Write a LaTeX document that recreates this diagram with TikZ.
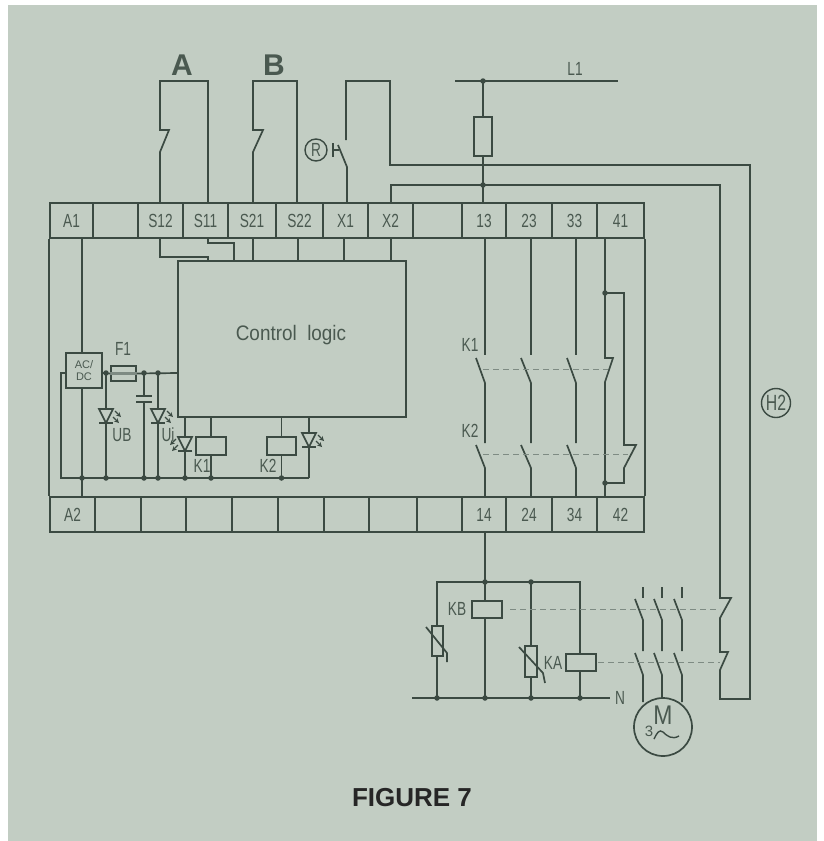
\documentclass[tikz,border=0pt]{standalone}
\usepackage{fontspec}
\usepackage{graphicx}
\setmainfont{Liberation Sans}
\usetikzlibrary{positioning}
\definecolor{panel}{HTML}{C2CDC3}
\definecolor{ink}{HTML}{3B4A42}
\definecolor{inktext}{HTML}{4A5950}
\newcommand{\slim}[1]{\scalebox{0.72}[1]{#1}}
\tikzset{
	wire/.style={ink,line width=1.7},
	link/.style={ink!50!panel,line width=0.8,dash pattern=on 6pt off 4pt},
	cell/.style={draw=ink,line width=1.7,inner sep=0,minimum height=35,text=inktext,font=\fontsize{19}{19}\selectfont},
	part/.style={draw=ink,line width=1.7,inner sep=0,fill=panel},
	tag/.style={inner sep=0,text=inktext,font=\fontsize{19}{19}\selectfont},
	blob/.style={circle,fill=ink,inner sep=0,minimum size=5.5},
	led/.pic={
		\draw [wire,fill=panel] (-7,0) -- (7,0) -- (0,14) -- cycle;
		\draw [wire] (-7,14) -- (7,14);
		\draw [wire,->,>=stealth,line width=1.1] (9,2) -- (15,8);
		\draw [wire,->,>=stealth,line width=1.1] (7,8) -- (13,14);
	}
}

\begin{document}
\begin{tikzpicture}[x=1pt,y=-1pt]
	\useasboundingbox (0,0) rectangle (823,841);
	\fill [panel] (8,5) rectangle (817,841);
	% Terminal Strips %
	\foreach \name/\x/\w in {A1/71.5/43, gap/115.5/45, S12/160.5/45, S11/205.5/45, S21/252/48, S22/299.5/47, X1/345.5/45, X2/390.5/45, gapb/437.5/49, 13/484/44, 23/529/46, 33/574.5/45, 41/620.5/47}
		{\ifnum\pdfstrcmp{\name}{gap}=0 \def\lbl{}\else\ifnum\pdfstrcmp{\name}{gapb}=0 \def\lbl{}\else\def\lbl{\name}\fi\fi
		\node (top\name) at (\x,220.5) [cell,minimum width=\w] {\slim{\lbl}};}
	\foreach \name/\x/\w in {A2/72.5/45, gapa/118/46, gapb/163.5/45, gapc/209/46, gapd/255/46, gape/301/46, gapf/346.5/45, gapg/393/48, gaph/439.5/45, 14/484/44, 24/529/46, 34/574.5/45, 42/620.5/47}
		{\ifnum\pdfstrcmp{\name}{A2}=0 \def\lbl{A2}\else\ifnum\pdfstrcmp{\name}{14}=0 \def\lbl{14}\else\ifnum\pdfstrcmp{\name}{24}=0 \def\lbl{24}\else\ifnum\pdfstrcmp{\name}{34}=0 \def\lbl{34}\else\ifnum\pdfstrcmp{\name}{42}=0 \def\lbl{42}\else\def\lbl{}\fi\fi\fi\fi\fi
		\node (bot\name) at (\x,514.5) [cell,minimum width=\w] {\slim{\lbl}};}
	\draw [wire] (topA1.south west) -- (botA2.north west);
	\draw [wire] (top41.south east) -- (bot42.north east);
	% Control Logic %
	\node (logic) at (292,339) [draw=ink,line width=1.7,inner sep=0,minimum width=228,minimum height=156] {};
	\node (logictext) at (291,335) [tag] {\scalebox{0.9}[1]{\fontsize{21}{21}\selectfont Control\ \ logic}};
	% Wires Into Logic %
	\draw [wire] (160,238) -- (160,257) -- (208,257) -- (208,261);
	\draw [wire] (208,238) -- (208,243) -- (234,243) -- (234,261);
	\foreach \x in {253, 298, 344, 391}
		{\draw [wire] (\x,238) -- (\x,261);}
	% Switch A and B %
	\node (swa) at (182,65) [tag] {\fontsize{30}{30}\selectfont\bfseries A};
	\node (swb) at (274,65) [tag] {\fontsize{30}{30}\selectfont\bfseries B};
	\draw [wire] (160,203) -- (160,152) -- (169,130) -- (160,130) -- (160,81) -- (208,81) -- (208,203);
	\draw [wire] (253,203) -- (253,152) -- (263,130) -- (253,130) -- (253,81) -- (297,81) -- (297,203);
	% Reset Button %
	\node (reset) at (316,150) [circle,draw=ink,line width=1.4,inner sep=0,minimum size=22,text=inktext,font=\fontsize{19}{19}\selectfont] {\slim{R}};
	\draw [wire] (333,143) -- (333,157);
	\draw [wire] (333,150) -- (339,150);
	\draw [wire] (347,203) -- (347,167) -- (338,145);
	\draw [wire] (346,140) -- (346,81) -- (390,81) -- (390,165) -- (750,165) -- (750,699) -- (720,699) -- (720,670) -- (728,652) -- (720,652) -- (720,618) -- (731,598) -- (720,598) -- (720,185) -- (391,185) -- (391,203);
	% L1 and Fuse %
	\draw [wire] (455,81) -- (618,81);
	\node (lone) at (575,69) [tag] {\slim{L1}};
	\node (fuse) at (483,136.5) [part,minimum width=18,minimum height=39] {};
	\draw [wire] (483,81) -- (fuse.north);
	\draw [wire] (fuse.south) -- (483,203);
	\node [blob] (ldot) at (483,81) {};
	\node [blob] (xdot) at (483,185) {};
	% Output Contacts %
	\foreach \x/\o in {485/476, 531/521, 576/567}
		{\draw [wire] (\x,238) -- (\x,355);
		\draw [wire] (\o,358) -- (\x,383) -- (\x,443);
		\draw [wire] (\o,445) -- (\x,468) -- (\x,497);}
	\draw [wire] (605,238) -- (605,358) -- (613,358) -- (605,382) -- (605,497);
	\draw [wire] (605,293) -- (624,293) -- (624,445) -- (636,445) -- (624,468) -- (624,483) -- (605,483);
	\node [blob] (opena) at (605,293) {};
	\node [blob] (openb) at (605,483) {};
	\draw [link] (483,369) -- (608,369);
	\draw [link] (483,454) -- (628,454);
	\node (kone) at (470,345) [tag] {\slim{K1}};
	\node (ktwo) at (470,431) [tag] {\slim{K2}};
	% H2 Lamp %
	\node (lamp) at (776,403) [circle,draw=ink,line width=1.4,inner sep=0,minimum size=29,text=inktext,font=\fontsize{22}{22}\selectfont] {\slim{H2}};
	% Supply %
	\node (supply) at (84,370.5) [part,minimum width=36,minimum height=35,align=center,text=inktext,font=\fontsize{11}{12}\selectfont] {AC/\\DC};
	\draw [wire] (82,238) -- (82,353);
	\draw [wire] (82,388) -- (82,497);
	\draw [wire] (66,373) -- (61,373) -- (61,478) -- (309,478);
	\node (fone) at (123.5,373.5) [part,minimum width=25,minimum height=15] {};
	\draw [wire,ink!50!panel,line width=2.5] (fone.west) -- (fone.east);
	\node (foneb) at (123,349) [tag] {\slim{F1}};
	\draw [wire] (102,373) -- (fone.west);
	\draw [wire] (fone.east) -- (178,373);
	% LEDs and Capacitor %
	\draw [wire] (106,373) -- (106,478);
	\pic at (106,409) {led};
	\node (ub) at (122,435) [tag] {\slim{UB}};
	\draw [wire] (144,373) -- (144,397);
	\draw [wire] (144,402) -- (144,478);
	\draw [ink,line width=2.5] (136,396) -- (152,396);
	\draw [ink,line width=2.5] (136,402) -- (152,402);
	\draw [wire] (158,373) -- (158,478);
	\pic at (158,409) {led};
	\node (ui) at (168,435) [tag] {\slim{Ui}};
	\draw [wire] (185,417) -- (185,478);
	\pic [xscale=-1] at (185,437) {led};
	\draw [wire] (309,417) -- (309,478);
	\pic at (309,433) {led};
	% Coils K1 K2 %
	\node (coilone) at (211,446) [part,minimum width=30,minimum height=18] {};
	\node (coiltwo) at (281.5,446) [part,minimum width=29,minimum height=18] {};
	\draw [wire] (211,417) -- (coilone.north);
	\draw [wire] (coilone.south) -- (211,478);
	\draw [wire] (281.5,417) -- (coiltwo.north);
	\draw [wire] (coiltwo.south) -- (281.5,478);
	\node (kcone) at (202,466) [tag] {\slim{K1}};
	\node (kctwo) at (268,466) [tag] {\slim{K2}};
	\foreach \x in {82, 106, 144, 158, 185, 211, 281.5}
		{\node [blob] at (\x,478) {};}
	\foreach \x in {106, 144, 158}
		{\node [blob] at (\x,373) {};}
	% Load Circuit %
	\draw [wire] (485,532) -- (485,698);
	\draw [wire] (437,698) -- (437,582) -- (580,582) -- (580,698);
	\draw [wire] (531,582) -- (531,698);
	\draw [wire,line width=2] (412,698) -- (610,698);
	\node (neutral) at (620,698) [tag] {\slim{N}};
	\foreach \x in {437, 485, 531, 580}
		{\node [blob] at (\x,698) {};}
	\node [blob] at (485,582) {};
	\node [blob] at (531,582) {};
	% Varistors %
	\node (vara) at (437.5,641) [part,minimum width=11,minimum height=30] {};
	\node (varb) at (531,661.5) [part,minimum width=12,minimum height=31] {};
	\draw [wire] (426,627) -- (447,653) -- (447,662);
	\draw [wire] (519,647) -- (543,673) -- (545,683);
	% Coils KA KB %
	\node (coilkb) at (487,609.5) [part,minimum width=30,minimum height=17] {};
	\node (coilka) at (581,662.5) [part,minimum width=30,minimum height=17] {};
	\node (kb) at (457,609) [tag] {\slim{KB}};
	\node (ka) at (553,663) [tag] {\slim{KA}};
	% Motor Contacts %
	\foreach \x in {643, 662, 682}
		{\draw [wire] (\x,587) -- (\x,598);
		\draw [wire] (\x-8,599) -- (\x,620) -- (\x,651);
		\draw [wire] (\x-8,653) -- (\x,675) -- (\x,702);}
	\draw [link] (510,609) -- (720,609);
	\draw [link] (598,662) -- (720,662);
	% Motor %
	\node (motor) at (663,727) [circle,draw=ink,line width=1.7,fill=panel,inner sep=0,minimum size=58] {};
	\node (mletter) at (663,715) [tag] {\scalebox{0.85}[1]{\fontsize{27}{27}\selectfont M}};
	\node (mphase) at (649,731) [tag,font=\fontsize{15}{15}\selectfont] {3};
	\draw [wire,line width=1.4] (654,739) .. controls (657,733) and (659,729) .. (663,732) .. controls (667,736) and (672,740) .. (679,736);
	% Caption %
	\node (caption) at (412,798) [inner sep=0,text=black!85,font=\fontsize{26}{26}\selectfont\bfseries] {FIGURE 7};
\end{tikzpicture}
\end{document}
